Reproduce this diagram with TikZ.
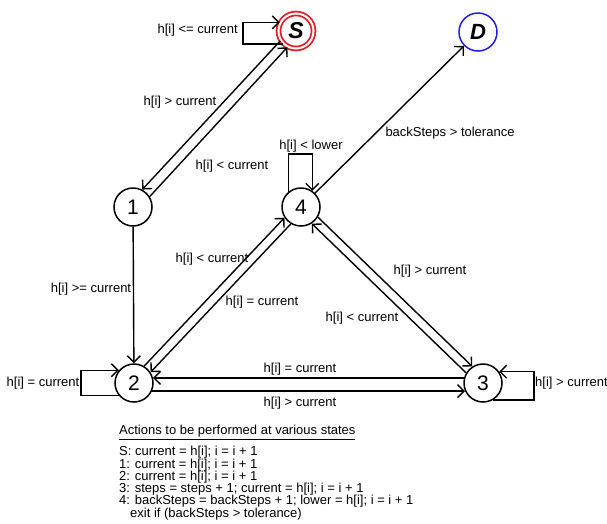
\documentclass[tikz,border=0pt]{standalone}
\usepackage{fontspec}
\setmainfont{Liberation Sans}
\usetikzlibrary{arrows.meta}
\definecolor{sred}{RGB}{228,30,36}
\definecolor{dblue}{RGB}{30,30,230}
\begin{document}
\begin{tikzpicture}[x=1pt,y=-1pt,
  state/.style={circle,draw,line width=1.5pt,minimum size=38pt,inner sep=0pt,font=\fontsize{21}{21}\selectfont},
  lbl/.style={font=\fontsize{13}{13}\selectfont,inner sep=1pt},
  edge/.style={line width=1.4pt,-{Straight Barb[length=6.5pt,width=13pt]}},
]
\useasboundingbox (0,0) rectangle (607,523);
% states
\node[state,draw=sred,line width=1.8pt,double=white,double distance=2pt,minimum size=35pt,font=\fontsize{23}{23}\selectfont\bfseries\itshape] (S) at (296,31) {S};
\node[state,draw=dblue,font=\fontsize{22}{22}\selectfont\bfseries\itshape] (D) at (478,32) {D};
\node[state] (n1) at (133,207) {1};
\node[state] (n4) at (301,207) {4};
\node[state] (n2) at (134,383) {2};
\node[state] (n3) at (483,383) {3};
% edges
\draw[edge] (S.212) -- (n1.62);
\draw[edge] (n1.32) -- (S.242);
\draw[edge] (n1) -- (n2);
\draw[edge] (n2.59) -- (n4.213);
\draw[edge] (n4.239) -- (n2.33);
\draw[edge] (n4.329) -- (n3.123);
\draw[edge] (n3.149) -- (n4.303);
\draw[edge] (n3.165) -- (n2.15);
\draw[edge] (n2.-24) -- (n3.204);
\draw[edge] (n4) -- (D);
% self loops
\draw[edge] (S.225) -- ++(-40,0) |- (S.152);
\draw[edge] (n4.130) -- ++(0,-38) -| (n4.55);
\draw[edge] (n2.220) -- ++(-38,0) |- (n2.140);
\draw[edge] (n3.-60) -- ++(41,0) |- (n3.35);
% labels
\node[lbl,anchor=east] (lS) at (239,30) {h[i] <= current};
\node[lbl] (l1a) at (180,102) {h[i] > current};
\node[lbl] (l1b) at (232,166) {h[i] < current};
\node[lbl] (l12) at (91,289) {h[i] >= current};
\node[lbl] (l24a) at (212,259) {h[i] < current};
\node[lbl] (l24b) at (262,302) {h[i] = current};
\node[lbl] (l43a) at (430,271) {h[i] > current};
\node[lbl] (l43b) at (362,318) {h[i] < current};
\node[lbl] (l32) at (300,369) {h[i] = current};
\node[lbl] (l23) at (300,403) {h[i] > current};
\node[lbl] (l4D) at (450,133) {backSteps > tolerance};
\node[lbl] (l44) at (311,146) {h[i] < lower};
\node[lbl] (l22) at (43,383) {h[i] = current};
\node[lbl,anchor=west] (l33) at (534,383) {h[i] > current};
% actions
\node[anchor=north west,align=left,inner sep=0pt,font=\fontsize{13}{12.3}\selectfont] (act) at (119,425)
{\underline{Actions to be performed at various states}\\[6pt]
S: current = h[i]; i = i + 1\\
1: current = h[i]; i = i + 1\\
2: current = h[i]; i = i + 1\\
3: steps = steps + 1; current = h[i]; i = i + 1\\
4: backSteps = backSteps + 1; lower = h[i]; i = i + 1\\
\hspace*{11pt}exit if (backSteps > tolerance)};
\end{tikzpicture}
\end{document}
